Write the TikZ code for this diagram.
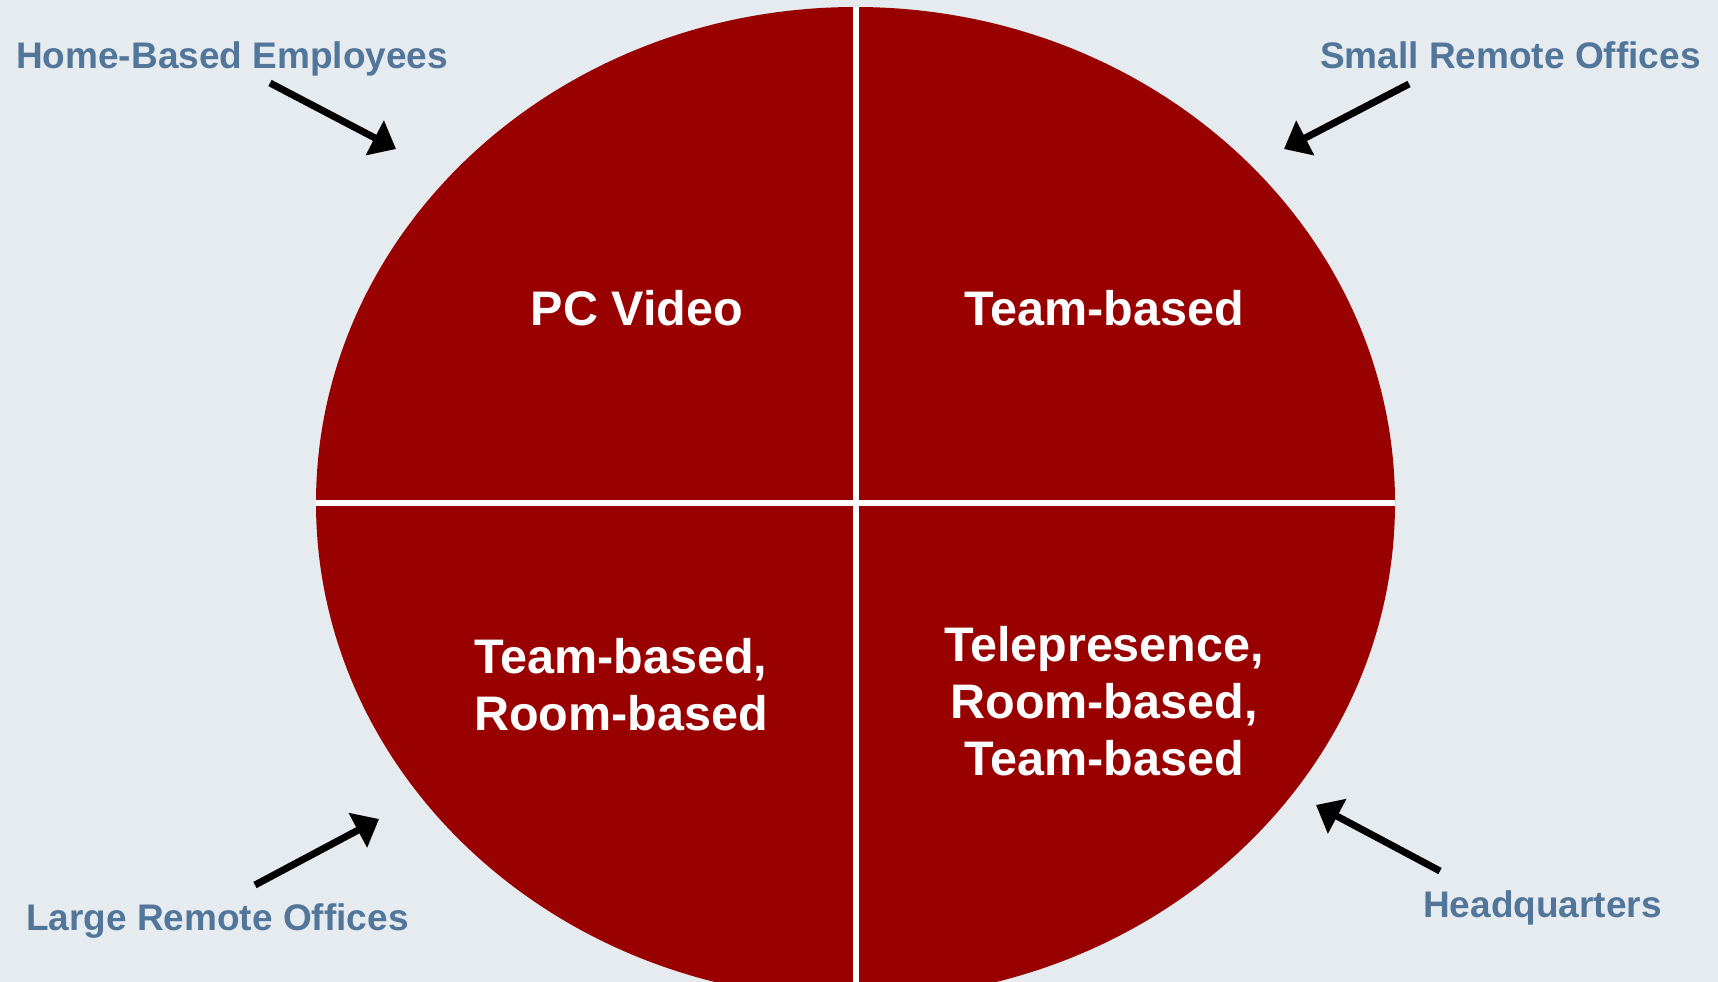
\documentclass[tikz,border=0pt]{standalone}
\usepackage{fontspec}
\setmainfont{Liberation Sans}
\usetikzlibrary{arrows.meta, shapes.geometric}
\definecolor{bgcol}{HTML}{E6EBF0}
\definecolor{diskred}{HTML}{990000}
\definecolor{labblue}{HTML}{52769A}

\begin{document}
\begin{tikzpicture}[x=1pt, y=-1pt, >={Triangle[length=24pt, width=38pt]},
    site/.style={text=labblue, font=\fontsize{37}{44}\selectfont\bfseries, inner sep=0pt, anchor=base west},
    usage/.style={text=white, font=\fontsize{48.5}{57}\selectfont\bfseries, align=center, inner sep=0pt},
    pointer/.style={->, line width=7pt, black}]
            % Nền và khung
            \useasboundingbox (0,0) rectangle (1718,982);
            \clip (0,0) rectangle (1718,982);
            \fill[bgcol] (0,0) rectangle (1718,982);

            % Hình elip chia bốn phần
            \node[ellipse, fill=diskred, minimum width=1079pt, minimum height=992pt, inner sep=0pt, outer sep=0pt] (disk) at (855.5,503) {};
            \draw[white, line width=6pt] (disk.west) -- (disk.east);
            \draw[white, line width=6pt] (disk.north) -- (disk.south);

            % Nội dung từng phần
            \node[usage] (pcvideo) at (637,308) {PC Video};
            \node[usage] (teamtop) at (1104,308) {Team-based};
            \node[usage] (teamroom) at (621,685) {Team-based,\\Room-based};
            \node[usage] (telep) at (1104,701) {Telepresence,\\Room-based,\\Team-based};

            % Nhãn các địa điểm
            \node[site] (home) at (16,68) {Home-Based Employees};
            \node[site] (small) at (1320,68) {Small Remote Offices};
            \node[site] (large) at (26,930) {Large Remote Offices};
            \node[site] (hq) at (1423,917) {Headquarters};

            % Mũi tên
            \coordinate (homeA) at (270,83);   \coordinate (homeB) at (396,149);
            \coordinate (smallA) at (1409,84); \coordinate (smallB) at (1284,149);
            \coordinate (largeA) at (255,885); \coordinate (largeB) at (379,819);
            \coordinate (hqA) at (1440,871);   \coordinate (hqB) at (1316,805);
            \draw[pointer] (homeA) -- (homeB);
            \draw[pointer] (smallA) -- (smallB);
            \draw[pointer] (largeA) -- (largeB);
            \draw[pointer] (hqA) -- (hqB);
        \end{tikzpicture}
\end{document}
